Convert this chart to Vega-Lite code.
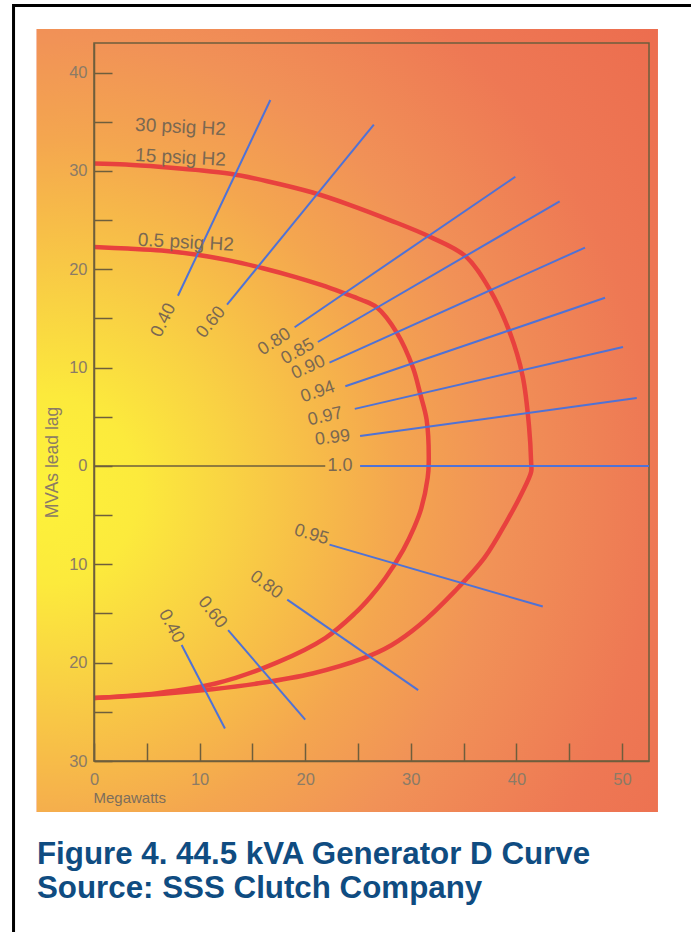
{
  "$schema": "https://vega.github.io/schema/vega-lite/v6.json",
  "autosize": {"type": "none"},
  "width": 555,
  "height": 718,
  "padding": {"left": 94, "top": 43, "right": 42, "bottom": 171},
  "background": "white",
  "config": {"view": {"stroke": null}, "font": "Liberation Sans"},
  "title": {
    "text": ["Figure 4. 44.5 kVA Generator D Curve", "Source: SSS Clutch Company"],
    "orient": "bottom",
    "anchor": "start",
    "frame": "group",
    "align": "left",
    "baseline": "top",
    "dx": -57,
    "offset": -101,
    "font": "Liberation Sans",
    "fontSize": 31.3,
    "fontWeight": "bold",
    "color": "#0f4c81",
    "lineHeight": 34
  },
  "datasets": {
    "bg": [{"x": -5.445, "xe": 53.41, "y": 44.42, "ye": -35.18}],
    "page": [{"x": -7.62, "xe": 70, "y": 46.81, "ye": -48}],
    "frame": [{"x": 0, "xe": 52.56, "y": -30, "ye": 43}],
    "zero": [{"x": 0, "y": 0}, {"x": 21.9, "y": 0}],
    "curves": [
      {"series": "15 psig", "i": 0, "x": 0, "y": 30.75},
      {"series": "15 psig", "i": 1, "x": 3, "y": 30.65},
      {"series": "15 psig", "i": 2, "x": 6.4, "y": 30.4},
      {"series": "15 psig", "i": 3, "x": 9.6, "y": 30.1},
      {"series": "15 psig", "i": 4, "x": 12.9, "y": 29.7},
      {"series": "15 psig", "i": 5, "x": 16.4, "y": 28.95},
      {"series": "15 psig", "i": 6, "x": 20.7, "y": 27.8},
      {"series": "15 psig", "i": 7, "x": 24.2, "y": 26.55},
      {"series": "15 psig", "i": 8, "x": 28, "y": 25.0},
      {"series": "15 psig", "i": 9, "x": 31.8, "y": 23.3},
      {"series": "15 psig", "i": 10, "x": 35.2, "y": 21.3},
      {"series": "15 psig", "i": 11, "x": 37.5, "y": 17.9},
      {"series": "15 psig", "i": 12, "x": 39.4, "y": 13.5},
      {"series": "15 psig", "i": 13, "x": 40.6, "y": 9.1},
      {"series": "15 psig", "i": 14, "x": 41.2, "y": 4.0},
      {"series": "15 psig", "i": 15, "x": 41.4, "y": 0.3},
      {"series": "15 psig", "i": 16, "x": 41.4, "y": -0.6},
      {"series": "15 psig", "i": 17, "x": 40.5, "y": -2.8},
      {"series": "15 psig", "i": 18, "x": 39.1, "y": -5.6},
      {"series": "15 psig", "i": 19, "x": 37.0, "y": -9.3},
      {"series": "15 psig", "i": 20, "x": 34.2, "y": -12.7},
      {"series": "15 psig", "i": 21, "x": 30.8, "y": -16.2},
      {"series": "15 psig", "i": 22, "x": 28.2, "y": -18.2},
      {"series": "15 psig", "i": 23, "x": 25.4, "y": -19.6},
      {"series": "15 psig", "i": 24, "x": 20.7, "y": -21.1},
      {"series": "15 psig", "i": 25, "x": 15.6, "y": -22.1},
      {"series": "15 psig", "i": 26, "x": 11.2, "y": -22.7},
      {"series": "15 psig", "i": 27, "x": 4.9, "y": -23.3},
      {"series": "15 psig", "i": 28, "x": 0, "y": -23.6},
      {"series": "0.5 psig", "i": 0, "x": 0, "y": 22.25},
      {"series": "0.5 psig", "i": 1, "x": 3.2, "y": 22.1},
      {"series": "0.5 psig", "i": 2, "x": 6.4, "y": 21.9},
      {"series": "0.5 psig", "i": 3, "x": 9.6, "y": 21.5},
      {"series": "0.5 psig", "i": 4, "x": 12.8, "y": 20.9},
      {"series": "0.5 psig", "i": 5, "x": 16, "y": 20.1},
      {"series": "0.5 psig", "i": 6, "x": 19.1, "y": 19.2},
      {"series": "0.5 psig", "i": 7, "x": 21.5, "y": 18.4},
      {"series": "0.5 psig", "i": 8, "x": 23.6, "y": 17.6},
      {"series": "0.5 psig", "i": 9, "x": 25.3, "y": 16.9},
      {"series": "0.5 psig", "i": 10, "x": 26.8, "y": 16.1},
      {"series": "0.5 psig", "i": 11, "x": 28.7, "y": 13.5},
      {"series": "0.5 psig", "i": 12, "x": 30.2, "y": 10.0},
      {"series": "0.5 psig", "i": 13, "x": 30.9, "y": 7.3},
      {"series": "0.5 psig", "i": 14, "x": 31.5, "y": 4.7},
      {"series": "0.5 psig", "i": 15, "x": 31.7, "y": 0.3},
      {"series": "0.5 psig", "i": 16, "x": 31.6, "y": -1.2},
      {"series": "0.5 psig", "i": 17, "x": 31.0, "y": -4.3},
      {"series": "0.5 psig", "i": 18, "x": 30.3, "y": -6.3},
      {"series": "0.5 psig", "i": 19, "x": 29.3, "y": -8.5},
      {"series": "0.5 psig", "i": 20, "x": 27.6, "y": -11.4},
      {"series": "0.5 psig", "i": 21, "x": 26.2, "y": -13.3},
      {"series": "0.5 psig", "i": 22, "x": 24.7, "y": -15.0},
      {"series": "0.5 psig", "i": 23, "x": 21.9, "y": -17.5},
      {"series": "0.5 psig", "i": 24, "x": 17.3, "y": -20.0},
      {"series": "0.5 psig", "i": 25, "x": 11.6, "y": -22.1},
      {"series": "0.5 psig", "i": 26, "x": 6.0, "y": -23.1},
      {"series": "0.5 psig", "i": 27, "x": 0, "y": -23.6}
    ],
    "pf": [
      {"id": "L040", "x": 7.95, "y": 17.3}, {"id": "L040", "x": 16.7, "y": 37.2},
      {"id": "L060", "x": 12.6, "y": 16.4}, {"id": "L060", "x": 26.5, "y": 34.7},
      {"id": "L080", "x": 19.0, "y": 14.1}, {"id": "L080", "x": 39.9, "y": 29.4},
      {"id": "L085", "x": 21.2, "y": 12.6}, {"id": "L085", "x": 44.1, "y": 26.9},
      {"id": "L090", "x": 22.3, "y": 10.5}, {"id": "L090", "x": 46.5, "y": 22.2},
      {"id": "L094", "x": 23.8, "y": 8.1}, {"id": "L094", "x": 48.4, "y": 17.1},
      {"id": "L097", "x": 24.7, "y": 5.8}, {"id": "L097", "x": 50.1, "y": 12.1},
      {"id": "L099", "x": 25.2, "y": 3.05}, {"id": "L099", "x": 51.4, "y": 6.9},
      {"id": "L100", "x": 25.2, "y": 0}, {"id": "L100", "x": 52.56, "y": 0},
      {"id": "G095", "x": 22.3, "y": -8.0}, {"id": "G095", "x": 42.5, "y": -14.3},
      {"id": "G080", "x": 18.3, "y": -13.6}, {"id": "G080", "x": 30.7, "y": -22.8},
      {"id": "G060", "x": 12.7, "y": -16.7}, {"id": "G060", "x": 20.0, "y": -25.8},
      {"id": "G040", "x": 8.3, "y": -18.2}, {"id": "G040", "x": 12.4, "y": -26.7}
    ],
    "pflabels": [
      {"id": "L040", "text": "0.40", "x": 6.6, "y": 14.8},
      {"id": "L060", "text": "0.60", "x": 11.1, "y": 14.6},
      {"id": "L080", "text": "0.80", "x": 17.1, "y": 12.6},
      {"id": "L085", "text": "0.85", "x": 19.3, "y": 11.6},
      {"id": "L090", "text": "0.90", "x": 20.3, "y": 10.0},
      {"id": "L094", "text": "0.94", "x": 21.2, "y": 7.5},
      {"id": "L097", "text": "0.97", "x": 21.9, "y": 5.0},
      {"id": "L099", "text": "0.99", "x": 22.6, "y": 2.85},
      {"id": "L100", "text": "1.0", "x": 23.3, "y": 0},
      {"id": "G095", "text": "0.95", "x": 20.6, "y": -7.0},
      {"id": "G080", "text": "0.80", "x": 16.3, "y": -12.1},
      {"id": "G060", "text": "0.60", "x": 11.2, "y": -14.9},
      {"id": "G040", "text": "0.40", "x": 7.3, "y": -16.3}
    ],
    "psig": [
      {"text": "30 psig H2", "x": 3.9, "y": 34.7},
      {"text": "15 psig H2", "x": 3.9, "y": 31.6},
      {"text": "0.5 psig H2", "x": 4.15, "y": 23.0}
    ]
  },
  "encoding": {
    "x": {
      "field": "x", "type": "quantitative",
      "scale": {"domain": [0, 52.56], "nice": false, "zero": false},
      "axis": {
        "values": [0, 5, 10, 15, 20, 25, 30, 35, 40, 45, 50],
        "labelExpr": "datum.value % 10 === 0 ? datum.label : ''",
        "tickSize": -18, "labelPadding": 28, "grid": false,
        "domainColor": "#6e5e3c", "domainWidth": 1.5,
        "tickColor": "#6e5e3c", "tickWidth": 1.5,
        "labelColor": "#8b7b66", "labelFontSize": 16.5, "labelFont": "Liberation Sans",
        "labelFlush": false, "labelOverlap": false,
        "title": "Megawatts", "titleX": -1, "titleY": 36, "titleAlign": "left", "titleBaseline": "middle",
        "titleColor": "#7d6e5c", "titleFontSize": 15, "titleFontWeight": "normal", "titleFont": "Liberation Sans",
        "zindex": 1
      }
    },
    "y": {
      "field": "y", "type": "quantitative",
      "scale": {"domain": [-30, 43], "nice": false, "zero": false},
      "axis": {
        "values": [-30, -25, -20, -15, -10, -5, 0, 5, 10, 15, 20, 25, 30, 35, 40],
        "labelExpr": "datum.value % 10 === 0 ? '' + abs(datum.value) : ''",
        "tickSize": -18, "labelPadding": 25, "grid": false,
        "domainColor": "#6e5e3c", "domainWidth": 1.5,
        "tickColor": "#6e5e3c", "tickWidth": 1.5,
        "labelColor": "#8b7b66", "labelFontSize": 16.5, "labelFont": "Liberation Sans",
        "labelFlush": false, "labelOverlap": false,
        "title": "MVAs lead lag", "titleX": -42, "titleY": 419, "titleAngle": -90, "titleAlign": "center", "titleBaseline": "middle",
        "titleColor": "#8b7b66", "titleFontSize": 17.5, "titleFontWeight": "normal", "titleFont": "Liberation Sans",
        "zindex": 1
      }
    }
  },
  "layer": [
    {
      "data": {"name": "bg"},
      "mark": {
        "type": "rect",
        "fill": {
          "gradient": "radial",
          "x1": 0.114, "y1": 0.589, "r1": 0,
          "x2": 0.114, "y2": 0.589, "r2": 1,
          "stops": [
            {"offset": 0, "color": "#fdf23a"},
            {"offset": 0.12, "color": "#fcea3c"},
            {"offset": 0.24, "color": "#f9d243"},
            {"offset": 0.34, "color": "#f7bd48"},
            {"offset": 0.45, "color": "#f4a64f"},
            {"offset": 0.58, "color": "#f19257"},
            {"offset": 0.78, "color": "#ee7854"},
            {"offset": 1, "color": "#ec6c4e"}
          ]
        }
      },
      "encoding": {"x2": {"field": "xe"}, "y2": {"field": "ye"}}
    },
    {
      "data": {"name": "page"},
      "mark": {"type": "rect", "filled": false, "color": "#000000", "strokeWidth": 3},
      "encoding": {"x2": {"field": "xe"}, "y2": {"field": "ye"}}
    },
    {
      "data": {"name": "frame"},
      "mark": {"type": "rect", "filled": false, "color": "#6e5e3c", "strokeWidth": 1.5},
      "encoding": {"x2": {"field": "xe"}, "y2": {"field": "ye"}}
    },
    {
      "data": {"name": "zero"},
      "mark": {"type": "line", "color": "#6e5e3c", "strokeWidth": 1.5},
      "encoding": {}
    },
    {
      "data": {"name": "curves"},
      "mark": {"type": "line", "color": "#e8413e", "strokeWidth": 4.5, "strokeJoin": "round", "interpolate": "catmull-rom"},
      "encoding": {"detail": {"field": "series"}, "order": {"field": "i", "type": "quantitative"}}
    },
    {
      "data": {"name": "pf"},
      "mark": {"type": "line", "color": "#4f72d6", "strokeWidth": 2},
      "encoding": {"detail": {"field": "id"}}
    },
    {
      "data": {"name": "pflabels"},
      "mark": {"type": "text", "fontSize": 18, "color": "#7a6852", "align": "center", "baseline": "middle", "font": "Liberation Sans"},
      "encoding": {
        "text": {"field": "text"},
        "angle": {
          "field": "id", "type": "nominal",
          "scale": {
            "type": "ordinal",
            "domain": ["L040", "L060", "L080", "L085", "L090", "L094", "L097", "L099", "L100", "G095", "G080", "G060", "G040"],
            "range": [-64, -51, -33, -29, -24, -19, -13, -7, 0, 16, 36, 52, 62]
          },
          "legend": null
        }
      }
    },
    {
      "data": {"name": "psig"},
      "mark": {"type": "text", "fontSize": 19, "color": "#7a6852", "align": "left", "baseline": "middle", "angle": 3, "font": "Liberation Sans"},
      "encoding": {"text": {"field": "text"}}
    }
  ]
}
